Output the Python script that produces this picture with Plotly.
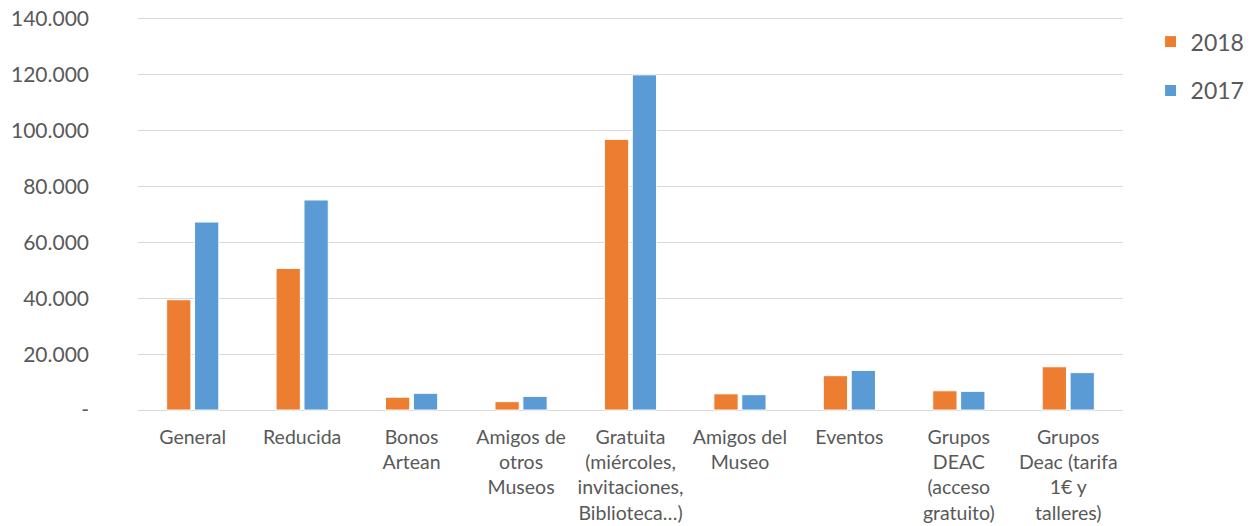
import plotly.graph_objects as go

categories = ["General", "Reducida", "Bonos Artean", "Amigos de otros Museos",
              "Gratuita", "Amigos del Museo", "Eventos", "Grupos DEAC",
              "Grupos Deac tarifa"]
tick_labels = ["General", "Reducida", "Bonos<br>Artean", "Amigos de<br>otros<br>Museos",
               "Gratuita<br>(miércoles,<br>invitaciones,<br>Biblioteca…)",
               "Amigos del<br>Museo", "Eventos", "Grupos<br>DEAC<br>(acceso<br>gratuito)",
               "Grupos<br>Deac (tarifa<br>1€ y<br>talleres)"]
values_2018 = [39500, 50700, 4600, 3000, 96900, 5800, 12300, 6900, 15500]
values_2017 = [67300, 75200, 6000, 4900, 120000, 5500, 14200, 6700, 13400]
y_tickvals = [0, 20000, 40000, 60000, 80000, 100000, 120000, 140000]
y_ticktext = ["-", "20.000", "40.000", "60.000", "80.000", "100.000", "120.000", "140.000"]

FONT = "Lato"
TXT = "#595959"

fig = go.Figure()
fig.add_trace(go.Bar(x=categories, y=values_2018, name="2018",
                     marker=dict(color="#ED7D31", line=dict(color="white", width=1)),
                     legendgroup="a"))
fig.add_trace(go.Bar(x=categories, y=values_2017, name="2017",
                     marker=dict(color="#5B9BD5", line=dict(color="white", width=1)),
                     legendgroup="b"))

fig.update_layout(
    width=1254, height=526,
    margin=dict(l=138, r=131, t=17, b=114, autoexpand=False),
    paper_bgcolor="white", plot_bgcolor="white",
    font=dict(family=FONT, size=20, color=TXT),
    barmode="group", bargap=0.49, bargroupgap=0.13,
    showlegend=True,
    legend=dict(x=1.028, y=0.992, xanchor="left", yanchor="top",
                font=dict(size=23, color=TXT), tracegroupgap=16,
                itemwidth=30, bgcolor="rgba(0,0,0,0)"),
    xaxis=dict(tickvals=categories, ticktext=tick_labels, showgrid=False,
               showline=False, zeroline=False, ticks="", ticklabelstandoff=11,
               automargin=False, tickfont=dict(size=19.5, color=TXT)),
    yaxis=dict(range=[-700, 140700], tickvals=y_tickvals, ticktext=y_ticktext,
               showgrid=True, gridcolor="#D9D9D9", gridwidth=1.3, zeroline=False,
               showline=False, ticks="", ticklabelstandoff=48, automargin=False,
               ticklabeloverflow="allow", tickfont=dict(size=21, color=TXT)),
)

fig.write_html("out.html", config={"displayModeBar": False},
               post_script="document.body.style.margin='0';")
